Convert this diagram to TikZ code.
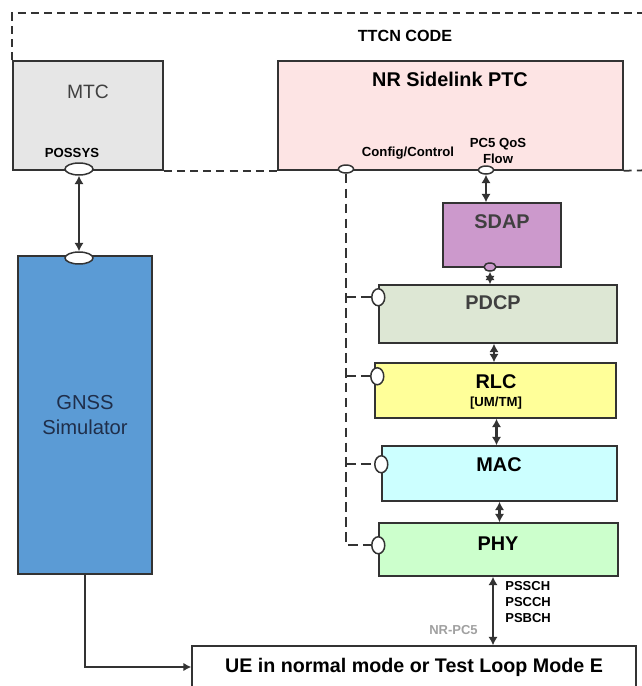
\documentclass[tikz,border=0pt]{standalone}
\usepackage{fontspec}
\setmainfont{Liberation Sans}
\usetikzlibrary{arrows.meta,positioning,shapes.geometric}
\definecolor{MtcGray}{HTML}{E6E6E6}
\definecolor{PtcPink}{HTML}{FDE4E4}
\definecolor{GnssBlue}{HTML}{5B9BD5}
\definecolor{SdapPurple}{HTML}{CC99CC}
\definecolor{PdcpSage}{HTML}{DDE7D4}
\definecolor{RlcYellow}{HTML}{FFFF99}
\definecolor{MacCyan}{HTML}{CCFFFF}
\definecolor{PhyGreen}{HTML}{CCFFCC}
\definecolor{EdgeGray}{HTML}{333333}
\definecolor{TextGray}{HTML}{404040}
\definecolor{LabelGray}{HTML}{A0A0A0}
\definecolor{GnssText}{HTML}{1F2E4A}
\tikzset{
  box/.style={draw=EdgeGray, line width=0.85pt, align=center, inner sep=0pt},
  layer/.style={font=\fontsize{11.3}{13}\selectfont\bfseries, inner sep=0pt},
  port/.style={ellipse, draw=EdgeGray, fill=white, line width=0.85pt, inner sep=0pt,
               minimum width=0.56cm, minimum height=0.24cm},
  sport/.style={port, minimum width=0.3cm, minimum height=0.16cm},
  lport/.style={port, minimum width=0.26cm, minimum height=0.34cm},
  lbl/.style={font=\fontsize{7.5}{8.6}\selectfont\bfseries, align=center, inner sep=0pt},
  chan/.style={font=\fontsize{7.4}{9.1}\selectfont\bfseries, align=left, inner sep=0pt},
  link/.style={{Latex[length=1.7mm,width=1.9mm]}-{Latex[length=1.7mm,width=1.9mm]},
               line width=1.3pt, draw=EdgeGray},
  ctrl/.style={line width=1.3pt, draw=EdgeGray, dash pattern=on 5.5pt off 3pt},
  frame/.style={line width=1pt, draw=EdgeGray, dash pattern=on 4.5pt off 3pt}
}
\begin{document}
\begin{tikzpicture}[x=0.02cm, y=-0.02cm]
  \useasboundingbox (0,0) rectangle (642,686);
  % test components
  \node[box, fill=MtcGray, minimum width=3cm, minimum height=2.18cm] (mtc) at (88,115.5) {};
  \node[box, fill=PtcPink, minimum width=6.9cm, minimum height=2.18cm] (ptc) at (450.5,115.5) {};
  \node[font=\fontsize{11}{13}\selectfont, text=TextGray] (mtcT) at (88,92) {MTC};
  \node[font=\fontsize{11.3}{13}\selectfont\bfseries] (ptcT) at (450,79) {NR Sidelink PTC};
  \node[font=\fontsize{9.2}{11}\selectfont\bfseries] (ttcn) at (405,36) {TTCN CODE};
  \node[lbl] (possysT) at (72,153) {POSSYS};
  \node[lbl] (cfgT) at (408,153) {Config/Control};
  \node[lbl] (qosT) at (498,151) {PC5 QoS\\Flow};
  \draw[frame] (mtc.north west) |- (660,13);
  \draw[frame] (mtc.south east) -- (ptc.south west);
  \draw[frame] (ptc.south east) -- (660,170);
  % simulator and protocol stack
  \node[box, fill=GnssBlue, text=GnssText, minimum width=2.68cm, minimum height=6.36cm,
        font=\fontsize{11.5}{14}\selectfont] (gnss) at (85,415) {GNSS\\Simulator};
  \node[box, fill=SdapPurple, minimum width=2.36cm, minimum height=1.28cm] (sdap) at (502,235) {};
  \node[box, fill=PdcpSage, minimum width=4.76cm, minimum height=1.16cm] (pdcp) at (498,314) {};
  \node[box, fill=RlcYellow, minimum width=4.82cm, minimum height=1.1cm] (rlc) at (495.5,390.5) {};
  \node[box, fill=MacCyan, minimum width=4.7cm, minimum height=1.1cm] (mac) at (499.5,473.5) {};
  \node[box, fill=PhyGreen, minimum width=4.78cm, minimum height=1.06cm] (phy) at (498.5,549.5) {};
  \node[layer, text=TextGray] (sdapT) at (502,222) {SDAP};
  \node[layer, text=TextGray] (pdcpT) at (493,303) {PDCP};
  \node[layer] (rlcT) at (496,382) {RLC};
  \node[lbl] (rlcM) at (496,403) {[UM/TM]};
  \node[layer] (macT) at (499,465) {MAC};
  \node[layer] (phyT) at (498,544) {PHY};
  \node[box, fill=white, minimum width=8.88cm, minimum height=0.84cm,
        font=\fontsize{11.2}{13}\selectfont\bfseries] (ue) at (414,667)
        {UE in normal mode or Test Loop Mode E};
  % ports
  \node[port] (possys) at (79,169) {};
  \node[port] (gnssP) at (79,258) {};
  \node[sport] (cfg) at (346,169) {};
  \node[sport] (qos) at (486,170) {};
  \node[sport, minimum width=0.24cm, fill=SdapPurple] (sdapP) at (490,267) {};
  \node[lport] (pdcpP) at ([yshift=-0.26cm]pdcp.north west) {};
  \node[lport] (rlcP) at ([xshift=0.06cm,yshift=-0.28cm]rlc.north west) {};
  \node[lport] (macP) at ([yshift=-0.38cm]mac.north west) {};
  \node[lport] (phyP) at ([yshift=-0.46cm]phy.north west) {};
  % connectors
  \draw[link] (possys) -- (gnssP);
  \draw[link] (qos) -- (qos |- sdap.north);
  \draw[link] (sdapP.south) -- (sdapP.south |- pdcp.north);
  \draw[link] ([xshift=-0.08cm]pdcp.south) -- ([xshift=-0.08cm]pdcp.south |- rlc.north);
  \draw[link] ([xshift=-0.06cm]mac.north) -- ([xshift=-0.06cm]mac.north |- rlc.south);
  \draw[link] (mac.south) -- (mac.south |- phy.north);
  \draw[link] ([xshift=-0.11cm]phy.south) -- ([xshift=-0.11cm]phy.south |- ue.north);
  \draw[-{Latex[length=1.6mm,width=1.7mm]}, line width=0.85pt, draw=EdgeGray]
    (gnss.south) |- (ue.west);
  \draw[ctrl] (cfg.south) |- (phyP.west);
  \draw[ctrl] (cfg.south |- pdcpP) -- (pdcpP.west);
  \draw[ctrl] (cfg.south |- rlcP) -- (rlcP.west);
  \draw[ctrl] (cfg.south |- macP) -- (macP.west);
  \node[chan, anchor=west] (chans) at (505,602) {PSSCH\\PSCCH\\PSBCH};
  \node[chan, text=LabelGray, anchor=east] (pc5) at (478,630) {NR-PC5};
\end{tikzpicture}
\end{document}
